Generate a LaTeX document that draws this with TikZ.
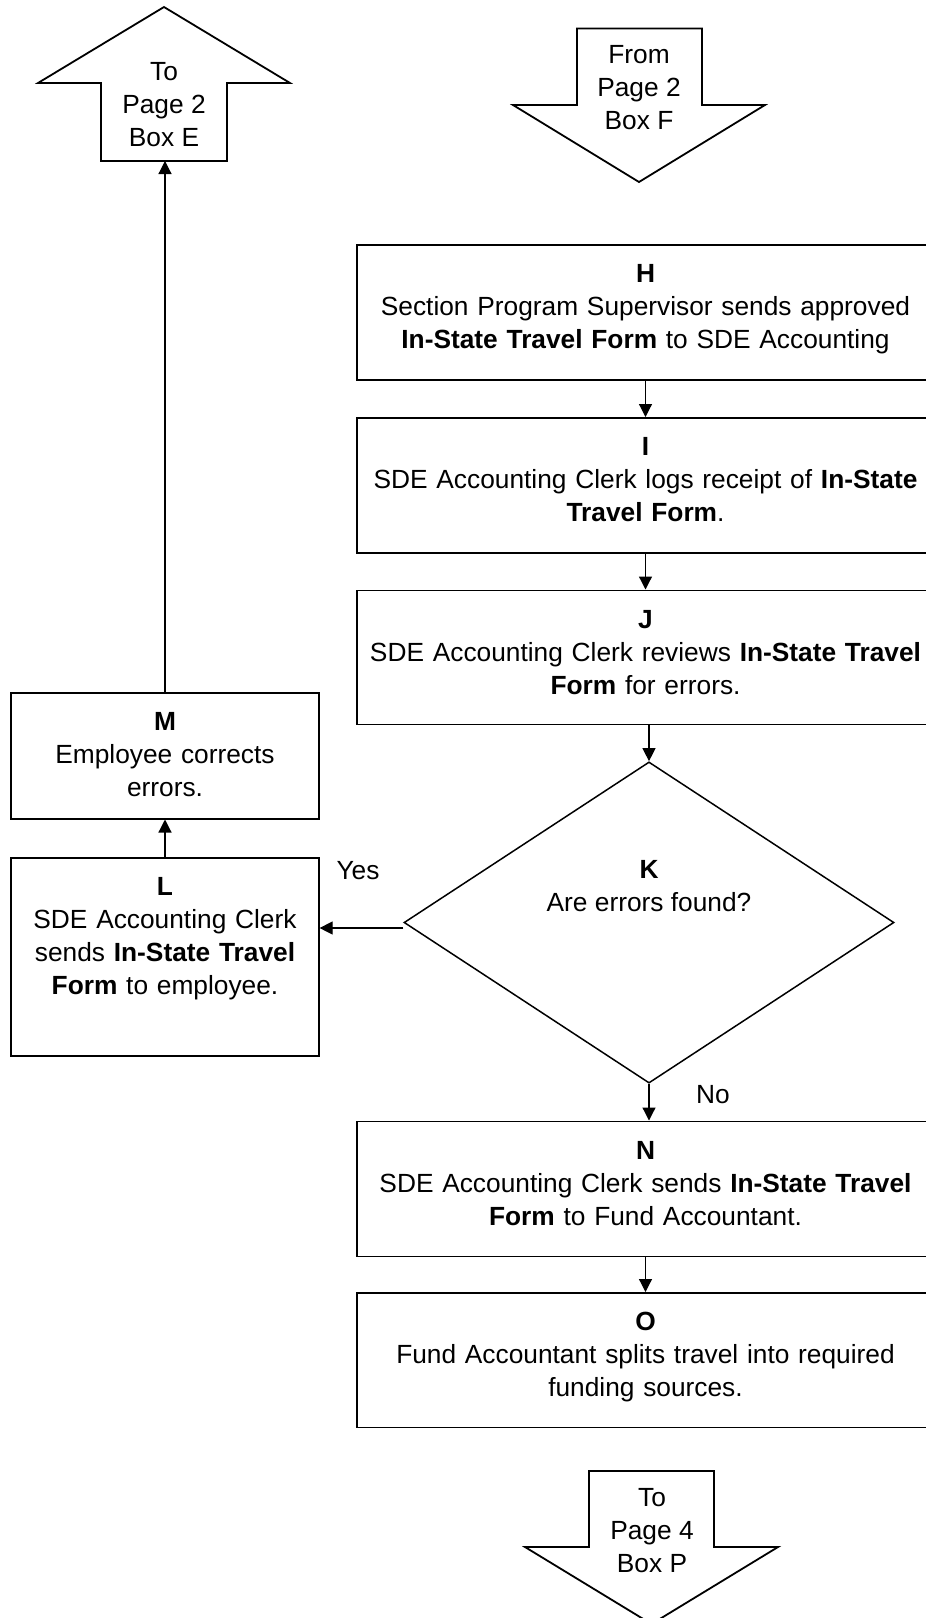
\documentclass[tikz,border=0pt]{standalone}
\usepackage{fontspec}
\setmainfont{Liberation Sans}
\usetikzlibrary{arrows.meta,shapes.geometric}
\begin{document}
\begin{tikzpicture}[x=0.5pt,y=-0.5pt,
	font=\fontsize{13.15}{16.5}\selectfont,
	stepbox/.style={draw,line width=0.9pt,inner sep=0pt,anchor=north,align=center,text height=18.9pt},
	widebox/.style={stepbox,text width=288.5pt},
	narrowbox/.style={stepbox,text width=153.7pt},
	decision/.style={draw,diamond,line width=0.75pt,inner sep=0pt,minimum width=245pt,minimum height=160.6pt},
	blockarrow/.style={draw,line width=0.9pt,line join=miter},
	flow/.style={line width=0.6pt,-{Triangle[length=6.5pt,width=6.5pt]}}]
	\useasboundingbox (0,0) rectangle (926,1618);
	\draw[blockarrow] (101,161) -- (101,83) -- (38,83) -- (164,7) -- (290,83) -- (227,83) -- (227,161) -- cycle;
	\node[align=center] (toE) at (164,105) {To\\Page 2\\Box E};
	\coordinate (toEbase) at (164,161);
	\draw[blockarrow] (577,28.5) -- (702,28.5) -- (702,105) -- (765,105) -- (639,182) -- (513,105) -- (577,105) -- cycle;
	\node[align=center] (fromF) at (639,88) {From\\Page 2\\Box F};
	\draw[blockarrow] (589,1471) -- (714,1471) -- (714,1547) -- (778,1547) -- (651.5,1624) -- (525,1547) -- (589,1547) -- cycle;
	\node[align=center] (toP) at (652,1531) {To\\Page 4\\Box P};
	\node[widebox,text depth=48.6pt] (H) at (645.5,244) {\textbf{H}\\Section Program Supervisor sends approved\\\textbf{In-State Travel Form} to SDE Accounting};
	\node[widebox,text depth=48.6pt] (I) at (645.5,417) {\textbf{I}\\SDE Accounting Clerk logs receipt of \textbf{In-State}\\\textbf{Travel Form}.};
	\node[widebox,text depth=48.1pt] (J) at (645.5,589.5) {\textbf{J}\\SDE Accounting Clerk reviews \textbf{In-State Travel}\\\textbf{Form} for errors.};
	\node[decision] (K) at (649,922.5) {};
	\node[align=center] (Ktext) at (649,886.5) {\textbf{K}\\Are errors found?};
	\node[narrowbox,text depth=44.1pt] (M) at (165,691.7) {\textbf{M}\\Employee corrects\\errors.};
	\node[narrowbox,text depth=80.2pt] (L) at (165,857) {\textbf{L}\\SDE Accounting Clerk\\sends \textbf{In-State Travel}\\\textbf{Form} to employee.};
	\node[widebox,text depth=48.6pt] (N) at (645.5,1120.5) {\textbf{N}\\SDE Accounting Clerk sends \textbf{In-State Travel}\\\textbf{Form} to Fund Accountant.};
	\node[widebox,text depth=48.35pt] (O) at (645.5,1292) {\textbf{O}\\Fund Accountant splits travel into required\\funding sources.};
	\node (yes) at (358,871) {Yes};
	\node (no) at (713,1095) {No};
	\draw[flow] (H.south) -- (I.north);
	\draw[flow] (I.south) -- (J.north);
	\draw[flow] (K.north |- J.south) -- (K.north);
	\draw[flow] (K.south) -- (K.south |- N.north);
	\draw[flow] (N.south) -- (O.north);
	\draw[flow] ([yshift=-2.75pt]K.west) -- ([yshift=-2.75pt]K.west -| L.east);
	\draw[flow] (L.north) -- (M.south);
	\draw[flow] (M.north) -- (M.north |- toEbase);
\end{tikzpicture}
\end{document}
